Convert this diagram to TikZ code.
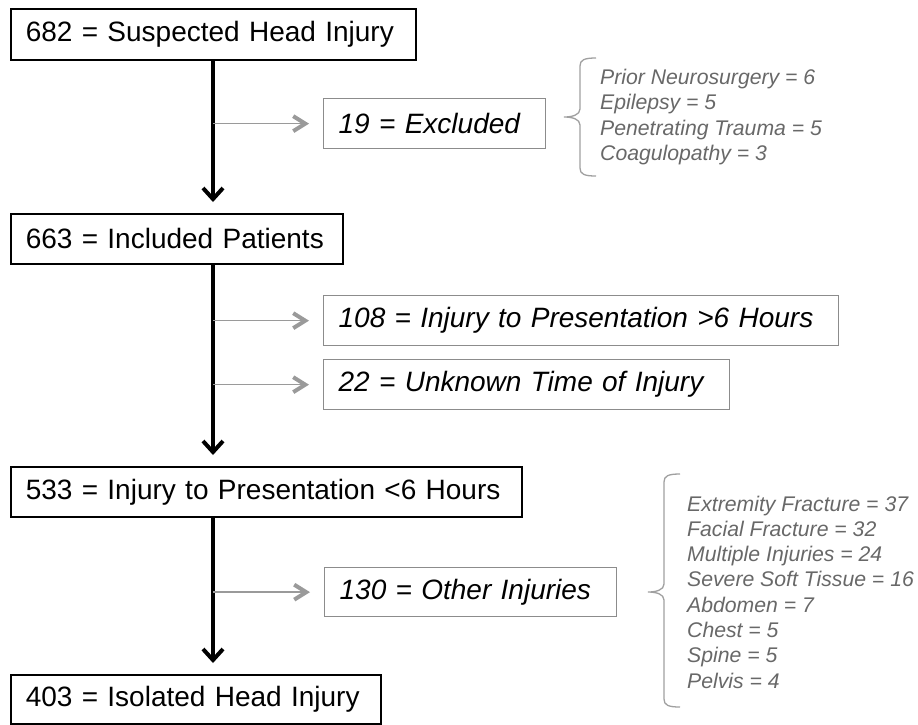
\documentclass[tikz,border=0pt]{standalone}
\usepackage{fontspec}
\setmainfont{Liberation Sans}
\usetikzlibrary{arrows.meta}
\definecolor{boxgray}{HTML}{8C8C8C}
\definecolor{arrowgray}{HTML}{9A9A9A}
\definecolor{listgray}{HTML}{686868}
\definecolor{bracegray}{HTML}{A0A0A0}
\begin{document}
\begin{tikzpicture}[x=1pt,y=-1pt,
  mainbox/.style={draw=black, line width=1.5pt, anchor=north west, inner xsep=15pt, inner ysep=0pt,
    align=left, font=\fontsize{28}{32}\selectfont},
  sidebox/.style={mainbox, draw=boxgray, line width=1.3pt, font=\fontsize{28}{32}\selectfont\itshape},
  mainarrow/.style={draw=black, line width=4pt, -{Straight Barb[length=11pt,width=20pt]}, shorten >=11pt},
  grayarrow/.style={draw=arrowgray, line width=1.6pt, -{Straight Barb[length=12pt,width=15pt,line width=4pt]}, shorten >=14pt},
  bracestyle/.style={draw=bracegray, line width=1.3pt},
  listtext/.style={anchor=west, align=left, inner sep=0pt, text=listgray, font=\fontsize{21.2}{25.3}\selectfont\itshape}]
\useasboundingbox (0,0) rectangle (918,724);
\coordinate (col) at (213,0);
\node[mainbox, text width=375pt, minimum height=51pt] (b1) at (10,8) {682 = Suspected Head Injury};
\node[mainbox, text width=302pt, minimum height=50pt] (b2) at (10,213) {663 = Included Patients};
\node[mainbox, text width=481pt, minimum height=50pt] (b6) at (10,466) {533 = Injury to Presentation <6 Hours};
\node[mainbox, text width=340pt, minimum height=49pt] (b8) at (10,674) {403 = Isolated Head Injury};
\node[sidebox, text width=192pt, minimum height=50pt] (b3) at (323,98) {19 = Excluded};
\node[sidebox, text width=485pt, minimum height=50pt] (b4) at (323,295) {108 = Injury to Presentation >6 Hours};
\node[sidebox, text width=376pt, minimum height=50pt] (b5) at (323,359) {22 = Unknown Time of Injury};
\node[sidebox, text width=262pt, minimum height=49pt] (b7) at (324,567) {130 = Other Injuries};
\draw[mainarrow] (b1.south -| col) -- (b2.north -| col);
\draw[mainarrow] (b2.south -| col) -- (b6.north -| col);
\draw[mainarrow] (b6.south -| col) -- (b8.north -| col);
\draw[grayarrow] (b3.west -| col) -- (b3.west);
\draw[grayarrow] (b4.west -| col) -- (b4.west);
\draw[grayarrow] (b5.west -| col) -- (b5.west);
\draw[grayarrow] (b7.west -| col) -- (b7.west);
\draw[bracestyle] (596,58) .. controls (584,58) and (580,60) .. (580,66) -- (580,109)
  .. controls (580,115) and (572,117) .. (564,117) .. controls (572,117) and (580,119) .. (580,125)
  -- (580,168) .. controls (580,174) and (584,176) .. (596,176);
\draw[bracestyle] (680,474) .. controls (668,474) and (664,476) .. (664,482) -- (664,584)
  .. controls (664,590) and (656,592) .. (648,592) .. controls (656,592) and (664,594) .. (664,600)
  -- (664,699) .. controls (664,705) and (668,707) .. (680,707);
\node[listtext] (l1) at (600,117) {Prior Neurosurgery = 6\\Epilepsy = 5\\Penetrating Trauma = 5\\Coagulopathy = 3};
\node[listtext] (l2) at (687,592) {Extremity Fracture = 37\\Facial Fracture = 32\\Multiple Injuries = 24\\Severe Soft Tissue = 16\\Abdomen = 7\\Chest = 5\\Spine = 5\\Pelvis = 4};
\end{tikzpicture}
\end{document}
